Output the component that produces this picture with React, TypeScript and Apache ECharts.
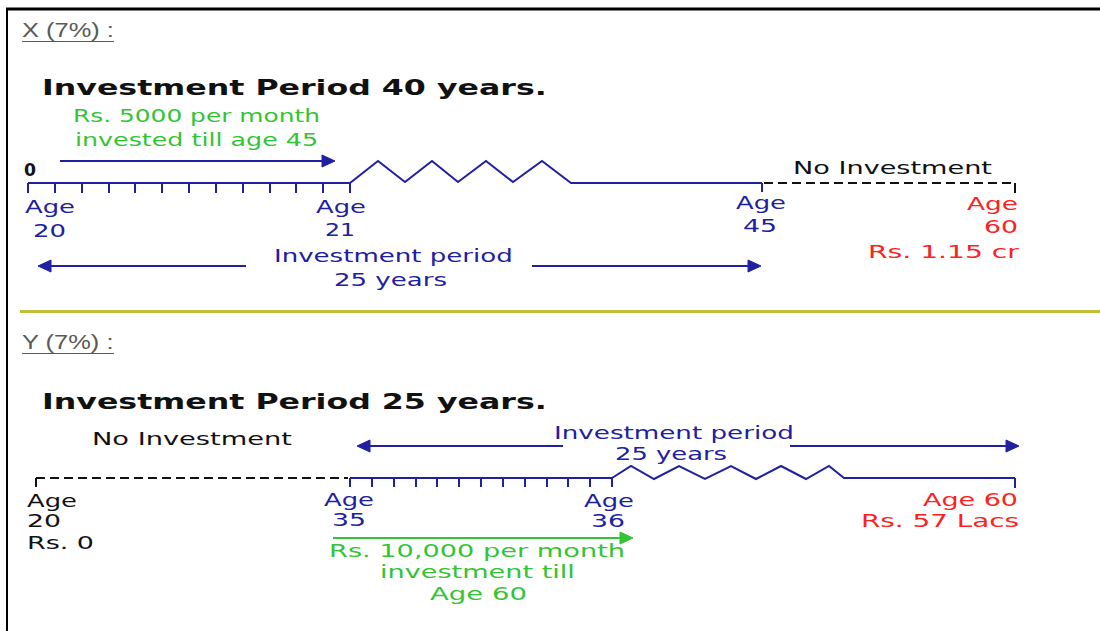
import React, { useEffect, useRef } from "react";
import * as echarts from "echarts";

// ---- content (text and counts) ----
const headings = ["X (7%) :", "Y (7%) :"];
const periodTitles = ["Investment Period 40 years.", "Investment Period 25 years."];
const xAgeLabels = ["20", "21", "45", "60"];
const yAgeLabels = ["20", "35", "36", "60"];
const xContribution = ["Rs. 5000 per month", "invested till age 45"];
const yContribution = ["Rs. 10,000 per month", "investment till", "Age 60"];
const periodLabel = ["Investment period", "25 years"];
const noInvestment = "No Investment";
const ageWord = "Age";
const xStartValue = "0";
const yStartValue = "Rs. 0";
const xCorpus = "Rs. 1.15 cr";
const yCorpus = "Rs. 57 Lacs";
const monthsInFirstYear = 12;

// ---- styles ----
const BLUE = "#2020a0";
const GREEN = "#33c433";
const RED = "#ff2020";
const BLACK = "#111111";
const GREY = "#5a5a5a";
const OLIVE = "#bfbf3c";
const PIX = '"DejaVu Sans", Verdana, sans-serif';
const HEAD_FONT = '"Liberation Sans", Arial, sans-serif';
const FS = 18;

const measureCtx = (typeof document !== "undefined"
  ? document.createElement("canvas").getContext("2d")
  : null) as CanvasRenderingContext2D | null;

function fitText(
  text: string,
  x1: number,
  x2: number,
  cy: number,
  size: number,
  color: string,
  bold = false,
  family = PIX
): any {
  const font = `${bold ? "bold " : ""}${size}px ${family}`;
  let sx = 1;
  if (measureCtx) {
    measureCtx.font = font;
    const w = measureCtx.measureText(text).width;
    if (w > 0) sx = (x2 - x1) / w;
  }
  return {
    type: "text",
    x: x1,
    y: cy,
    scaleX: sx,
    silent: true,
    style: {
      text,
      x: 0,
      y: 0,
      fill: color,
      font,
      fontSize: size,
      fontFamily: family,
      fontWeight: bold ? "bold" : "normal",
      textAlign: "left",
      align: "left",
      textVerticalAlign: "middle",
      verticalAlign: "middle",
    },
  };
}

function seg(x1: number, y1: number, x2: number, y2: number, color: string, w = 2, dash?: number[]): any {
  return {
    type: "line",
    silent: true,
    shape: { x1, y1, x2, y2 },
    style: { stroke: color, lineWidth: w, lineDash: dash },
  };
}

function poly(points: number[][], color: string, w = 2): any {
  return {
    type: "polyline",
    silent: true,
    shape: { points },
    style: { stroke: color, fill: null, lineWidth: w, lineJoin: "miter" },
  };
}

function head(tipX: number, y: number, dir: 1 | -1, color: string, len = 13, half = 6): any {
  return {
    type: "polygon",
    silent: true,
    shape: { points: [[tipX, y], [tipX - dir * len, y - half], [tipX - dir * len, y + half]] },
    style: { fill: color, stroke: color, lineWidth: 1 },
  };
}

function ticks(x1: number, x2: number, n: number, y: number, len: number, color: string): any[] {
  const out: any[] = [];
  for (let i = 0; i <= n; i++) {
    const x = Math.round(x1 + ((x2 - x1) * i) / n);
    out.push(seg(x, y, x, y + len, color, 2));
  }
  return out;
}

function buildElements(): any[] {
  const el: any[] = [];

  // frame
  el.push(seg(6, 9, 1100, 9, "#000", 3));
  el.push(seg(7, 8, 7, 631, "#000", 2));

  // ===== Section X =====
  el.push(fitText(headings[0], 22, 114, 30, 21, GREY, false, HEAD_FONT));
  el.push(seg(22, 41.5, 114, 41.5, GREY, 1));
  el.push(fitText(periodTitles[0], 42, 547, 88, 21, BLACK, true));
  el.push(fitText(xContribution[0], 73, 320, 116, FS, GREEN));
  el.push(fitText(xContribution[1], 75, 318, 140, FS, GREEN));
  // contribution arrow
  el.push(seg(60, 161, 323, 161, BLUE, 2));
  el.push(head(335, 161, 1, BLUE));
  el.push(fitText(xStartValue, 24, 36, 170, 17, BLACK, true));

  // first-year monthly axis
  el.push(seg(28, 183, 350, 183, BLUE, 2));
  el.push(...ticks(28, 350, monthsInFirstYear, 183, 10, BLUE));
  // zigzag (axis break) then flat to age 45
  el.push(
    poly(
      [
        [350, 183], [378, 161], [405, 182], [432, 161], [458, 182],
        [486, 161], [513, 182], [542, 161], [571, 183], [762, 183],
      ],
      BLUE,
      2
    )
  );
  el.push(seg(762, 183, 762, 192, BLUE, 2));
  // no investment dashed
  el.push(seg(764, 183, 1015, 183, BLACK, 2, [9, 5]));
  el.push(seg(1015, 183, 1015, 193, BLACK, 2));
  el.push(fitText(noInvestment, 793, 992, 168, FS, BLACK));

  // ages
  el.push(fitText(ageWord, 25, 75, 207, FS, BLUE));
  el.push(fitText(xAgeLabels[0], 33, 66, 231, FS, BLUE));
  el.push(fitText(ageWord, 316, 366, 207, FS, BLUE));
  el.push(fitText(xAgeLabels[1], 325, 355, 230, FS, BLUE));
  el.push(fitText(ageWord, 736, 786, 203, FS, BLUE));
  el.push(fitText(xAgeLabels[2], 743, 777, 226, FS, BLUE));
  el.push(fitText(ageWord, 967, 1018, 204, FS, RED));
  el.push(fitText(xAgeLabels[3], 984, 1018, 227, FS, RED));
  el.push(fitText(xCorpus, 868, 1019, 252, FS, RED));

  // investment period arrow
  el.push(head(38, 266, -1, BLUE));
  el.push(seg(50, 266, 246, 266, BLUE, 2));
  el.push(seg(532, 266, 749, 266, BLUE, 2));
  el.push(head(761, 266, 1, BLUE));
  el.push(fitText(periodLabel[0], 274, 513, 256, FS, BLUE));
  el.push(fitText(periodLabel[1], 334, 447, 280, FS, BLUE));

  // separator
  el.push(seg(20, 311.5, 1100, 311.5, OLIVE, 3));

  // ===== Section Y =====
  el.push(fitText(headings[1], 22, 114, 342, 21, GREY, false, HEAD_FONT));
  el.push(seg(22, 353.5, 114, 353.5, GREY, 1));
  el.push(fitText(periodTitles[1], 42, 547, 402, 21, BLACK, true));
  el.push(fitText(noInvestment, 92, 292, 439, FS, BLACK));

  // investment period arrow
  el.push(head(357, 446, -1, BLUE));
  el.push(seg(369, 446, 563, 446, BLUE, 2));
  el.push(seg(790, 446, 1006, 446, BLUE, 2));
  el.push(head(1019, 446, 1, BLUE));
  el.push(fitText(periodLabel[0], 554, 794, 433, FS, BLUE));
  el.push(fitText(periodLabel[1], 615, 727, 454, FS, BLUE));

  // no investment dashed
  el.push(seg(36, 478, 348, 478, BLACK, 2, [9, 5]));
  el.push(seg(36, 478, 36, 487, BLACK, 2));

  // first-year monthly axis
  el.push(seg(350, 478, 612, 478, BLUE, 2));
  el.push(...ticks(350, 612, monthsInFirstYear, 478, 9, BLUE));
  el.push(
    poly(
      [
        [612, 478], [631, 466], [654, 479], [679, 466], [705, 479], [731, 466],
        [756, 479], [781, 466], [806, 479], [829, 466], [844, 478], [1015, 478],
      ],
      BLUE,
      2
    )
  );
  el.push(seg(1015, 478, 1015, 488, BLUE, 2));

  // ages
  el.push(fitText(ageWord, 27, 77, 501, FS, BLACK));
  el.push(fitText(yAgeLabels[0], 27, 61, 521, FS, BLACK));
  el.push(fitText(yStartValue, 27, 94, 543, FS, BLACK));
  el.push(fitText(ageWord, 324, 374, 500, FS, BLUE));
  el.push(fitText(yAgeLabels[1], 332, 366, 520, FS, BLUE));
  el.push(fitText(ageWord, 584, 634, 501, FS, BLUE));
  el.push(fitText(yAgeLabels[2], 591, 625, 521, FS, BLUE));
  el.push(fitText(`${ageWord} ${yAgeLabels[3]}`, 923, 1018, 500, FS, RED));
  el.push(fitText(yCorpus, 861, 1019, 521, FS, RED));

  // contribution arrow
  el.push(seg(333, 538, 620, 538, GREEN, 2));
  el.push(head(633, 538, 1, GREEN));
  el.push(fitText(yContribution[0], 329, 625, 551, FS, GREEN));
  el.push(fitText(yContribution[1], 380, 575, 572, FS, GREEN));
  el.push(fitText(yContribution[2], 430, 527, 593, FS, GREEN));

  return el;
}

export default function App() {
  const ref = useRef<HTMLDivElement>(null);
  useEffect(() => {
    if (!ref.current) return;
    const chart = echarts.init(ref.current, undefined, { renderer: "svg" });
    chart.setOption({
      animation: false,
      backgroundColor: "#ffffff",
      graphic: { elements: buildElements() },
    });
    return () => chart.dispose();
  }, []);
  return (
    <div
      ref={ref}
      style={{ position: "absolute", left: 0, top: 0, width: 1100, height: 631, background: "#fff" }}
    />
  );
}
